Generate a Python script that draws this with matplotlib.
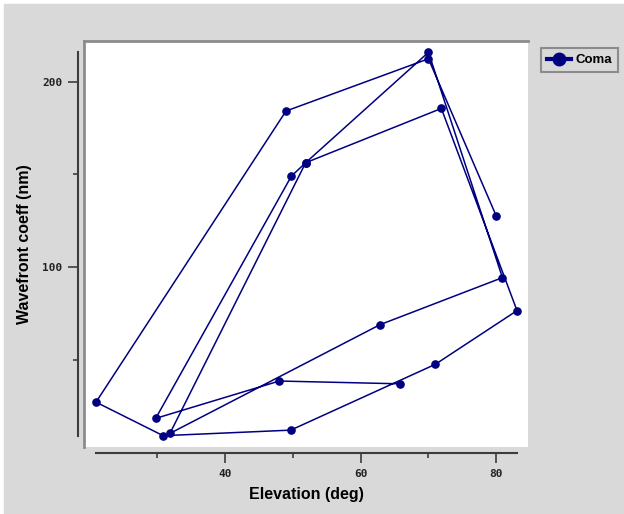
import numpy as np
import matplotlib
matplotlib.use('Agg')
import matplotlib.pyplot as plt
from matplotlib.lines import Line2D
from matplotlib.patches import Rectangle

# coma coefficient against elevation, in the order the points were taken
elevation = [80.0, 70.0, 49.0, 21.0, 30.9, 49.7, 71.0, 83.05, 71.9, 51.9,
             70.0, 80.9, 62.85, 31.9, 51.9, 49.8, 29.8, 48.0, 65.8]
coma = [127.5, 212.4, 184.2, 27.1, 9.0, 12.0, 47.5, 76.5, 185.6, 156.3,
        215.9, 94.3, 68.9, 10.25, 156.3, 149.1, 18.35, 38.5, 37.0]

x_major = [40, 60, 80]
x_minor = [30, 50, 70]
y_major = [100, 200]
y_minor = [50, 150]

navy = '#000080'
bg = '#d9d9d9'

W, H = 624, 514
fig = plt.figure(figsize=(W / 100, H / 100), dpi=100, facecolor='white')
fig.patches.append(Rectangle((4 / W, 0), (W - 4) / W, (H - 4) / H,
                             transform=fig.transFigure, color=bg, zorder=-10))

# white plotting area, gray inset border top and left
pos = [84 / W, (H - 447) / H, 444 / W, 406 / H]
bgax = fig.add_axes(pos, facecolor='white')
bgax.set_xticks([])
bgax.set_yticks([])
for s in ['right', 'bottom']:
    bgax.spines[s].set_visible(False)
for s in ['top', 'left']:
    bgax.spines[s].set_color('#8c8c8c')
    bgax.spines[s].set_linewidth(2)

ax = fig.add_axes(pos)
ax.patch.set_alpha(0)
ax.plot(elevation, coma, '-o', color=navy, lw=1.1, ms=5.2, label='Coma')

ax.set_xlim(19.23, 84.67)
ax.set_ylim(2.9, 222.0)

for s in ['top', 'right']:
    ax.spines[s].set_visible(False)
for s in ['left', 'bottom']:
    ax.spines[s].set_position(('outward', 4.5))
    ax.spines[s].set_color('#3c3c3c')
    ax.spines[s].set_linewidth(1.5)
ax.spines['bottom'].set_bounds(min(elevation), max(elevation))
ax.spines['left'].set_bounds(min(coma), max(coma))

ax.set_xticks(x_major)
ax.set_xticks(x_minor, minor=True)
ax.set_yticks(y_major)
ax.set_yticks(y_minor, minor=True)
ax.tick_params(which='major', length=7, width=1.2, color='#3c3c3c', pad=4)
ax.tick_params(which='minor', length=3.5, width=1.2, color='#3c3c3c')
for lab in ax.get_xticklabels() + ax.get_yticklabels():
    lab.set_fontfamily('DejaVu Sans Mono')
    lab.set_fontweight('bold')
    lab.set_fontsize(8)
    lab.set_color('#222222')

ax.set_xlabel('Elevation (deg)', family='Liberation Sans', weight='bold',
              size=11.5, va='center')
ax.set_ylabel('Wavefront coeff (nm)', family='Liberation Sans', weight='bold',
              size=11.5, va='center')
ax.xaxis.set_label_coords(0.5, (447 - 495) / 406)
ax.yaxis.set_label_coords((25 - 84) / 444, 0.5)

handle = Line2D([], [], color=navy, lw=3, marker='o', ms=9)
leg = fig.legend([handle], ['Coma'], loc='upper left',
                 bbox_to_anchor=(541 / W, 1 - 48 / H), borderaxespad=0,
                 prop={'family': 'Liberation Sans', 'weight': 'bold', 'size': 9.5},
                 handlelength=1.8, handletextpad=0.35, borderpad=0.45,
                 fancybox=False, framealpha=1, facecolor=bg, edgecolor='#8c8c8c')
leg.get_frame().set_linewidth(1.5)

fig.savefig('out.png', dpi=100, facecolor=fig.get_facecolor())
